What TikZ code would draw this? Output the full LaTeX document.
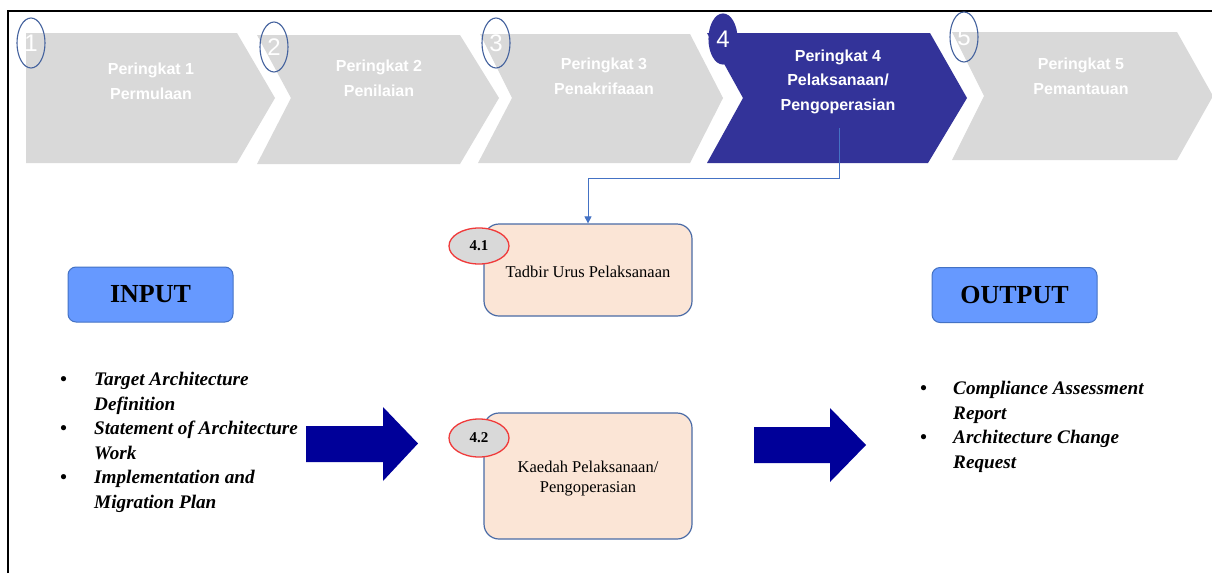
\documentclass[tikz,border=0pt]{standalone}
\usepackage{fontspec}
\setmainfont{Liberation Serif}
\newfontfamily\arialfont{Liberation Sans}
\usetikzlibrary{arrows.meta,shapes.geometric}

\definecolor{chevgray}{HTML}{D9D9D9}
\definecolor{chevblue}{HTML}{333399}
\definecolor{ringblue}{HTML}{44629E}
\definecolor{linkblue}{HTML}{4472C4}
\definecolor{boxfill}{HTML}{FBE5D6}
\definecolor{boxedge}{HTML}{4A6BA6}
\definecolor{tagred}{HTML}{F03A3A}
\definecolor{ioblue}{HTML}{6699FF}
\definecolor{navy}{HTML}{000099}

\tikzset{
  chevtext/.style={text=white, font=\arialfont\bfseries\fontsize{16}{24.5}\selectfont,
                   align=center, inner sep=0pt},
  numring/.style={ellipse, draw=ringblue, line width=1.1pt, minimum width=28pt,
                  minimum height=50pt, inner sep=0pt, text=white,
                  font=\arialfont\fontsize{24}{24}\selectfont},
  taskbox/.style={draw=boxedge, fill=boxfill, line width=1.2pt, rounded corners=15pt,
                  minimum width=208pt, inner sep=0pt},
  tasktext/.style={align=center, inner sep=0pt, font=\fontsize{16.5}{20}\selectfont},
  tagoval/.style={ellipse, draw=tagred, fill=chevgray, line width=1.3pt,
                  minimum width=60pt, minimum height=36pt, inner sep=0pt,
                  font=\bfseries\fontsize{15}{15}\selectfont},
  iobox/.style={draw=linkblue, fill=ioblue, line width=1pt, rounded corners=8pt,
                minimum width=165pt, minimum height=55pt, inner sep=0pt,
                font=\bfseries\fontsize{26}{26}\selectfont},
  itemlist/.style={anchor=north west, inner sep=0pt, align=left,
                   font=\bfseries\itshape\fontsize{19.2}{24.5}\selectfont},
  bigarrow/.style={fill=navy},
  link/.style={draw=linkblue, line width=0.8pt, -{Triangle[length=7pt,width=7pt]}}
}

\begin{document}
\begin{tikzpicture}[x=1pt,y=-1pt]
\useasboundingbox (0,0) rectangle (1212,573);
\fill[white] (0,0) rectangle (1212,573);

% frame
\draw[line width=2pt] (8,573) -- (8,10.5) -- (1213,10.5);

% stage chevrons
\fill[chevgray] (26,33) -- (237,33) -- (275,98) -- (237,163) -- (26,163) -- cycle;
\fill[chevgray] (257,35) -- (460,35) -- (499,98) -- (460,164) -- (257,164) -- (291,98) -- cycle;
\fill[chevgray] (480,34) -- (690,34) -- (723,98) -- (690,163) -- (478,163) -- (512,98) -- cycle;
\fill[chevblue] (707,33) -- (930,33) -- (967,98) -- (928,163) -- (707,163) -- (743,98) -- cycle;
\fill[chevgray] (952,32) -- (1177,32) -- (1213,96) -- (1177,160) -- (952,160) -- (984,96) -- cycle;

% stage titles
\node[chevtext] (s1) at (151,81.5) {Peringkat 1\\Permulaan};
\node[chevtext] (s2) at (379,78.5) {Peringkat 2\\Penilaian};
\node[chevtext] (s3) at (604,76.5) {Peringkat 3\\Penakrifaaan};
\node[chevtext] (s4) at (838,81.5) {Peringkat 4\\Pelaksanaan/\\Pengoperasian};
\node[chevtext] (s5) at (1081,76.5) {Peringkat 5\\Pemantauan};

% stage numbers
\node[numring] (n1) at (31,43) {1};
\node[numring] (n2) at (274,47) {2};
\node[numring] (n3) at (496,43) {3};
\node[numring, fill=chevblue, draw=chevblue] (n4) at (723,39) {4};
\node[numring] (n5) at (964,37) {5};

% activities of stage 4
\node[taskbox, minimum height=92pt] (t1) at (588,270) {};
\node[tasktext] (t1text) at (588,272) {Tadbir Urus Pelaksanaan};
\node[taskbox, minimum height=126pt] (t2) at (588,476) {};
\node[tasktext] (t2text) at (588,479) {Kaedah Pelaksanaan/\\Pengoperasian};
\node[tagoval] (g1) at (479,246) {4.1};
\node[tagoval, minimum height=38pt] (g2) at (479,438) {4.2};

% link from stage 4 to its first activity
\coordinate (lk) at (839,128);
\draw[link] (lk) |- (588,178) -- (t1.north);

% input and output
\node[iobox] (in) at (150.5,294.5) {INPUT};
\node[iobox] (out) at (1014.5,295) {OUTPUT};

\node[itemlist] (inlist) at (60,372) {%
  \makebox[34pt][l]{\textbullet}Target Architecture\\
  \hspace*{34pt}Definition\\
  \makebox[34pt][l]{\textbullet}Statement of Architecture\\
  \hspace*{34pt}Work\\
  \makebox[34pt][l]{\textbullet}Implementation and\\
  \hspace*{34pt}Migration Plan};

\node[itemlist] (outlist) at (920,381) {%
  \makebox[33pt][l]{\textbullet}Compliance Assessment\\
  \hspace*{33pt}Report\\
  \makebox[33pt][l]{\textbullet}Architecture Change\\
  \hspace*{33pt}Request};

% flow arrows
\fill[bigarrow] (306,426) -- (383,426) -- (383,407) -- (418,443.5) -- (383,481)
  -- (383,462) -- (306,462) -- cycle;
\fill[bigarrow] (754,427) -- (830,427) -- (830,408) -- (866,445) -- (830,482)
  -- (830,463) -- (754,463) -- cycle;
\end{tikzpicture}
\end{document}
